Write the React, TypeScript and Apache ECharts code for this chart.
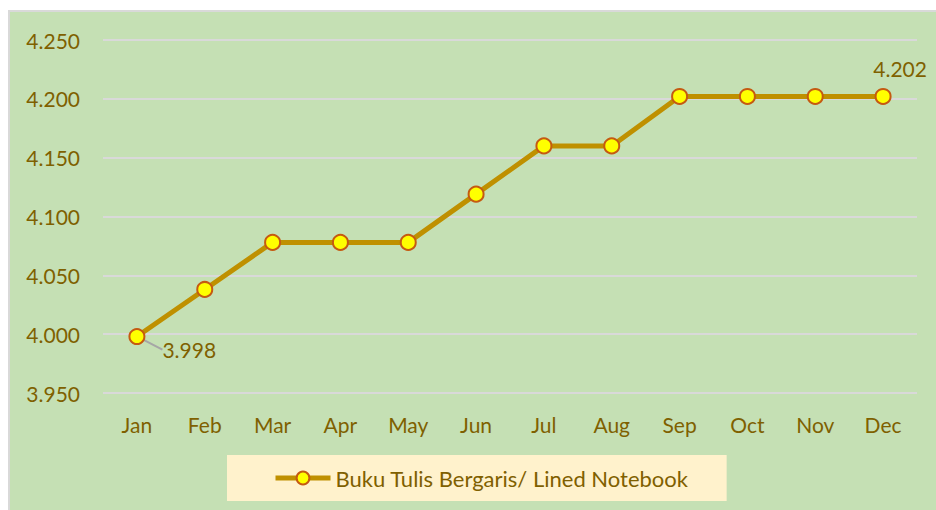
import React, { useEffect, useRef } from "react";
import * as echarts from "echarts";

const months = ["Jan", "Feb", "Mar", "Apr", "May", "Jun", "Jul", "Aug", "Sep", "Oct", "Nov", "Dec"];
const prices = [3.998, 4.038, 4.078, 4.078, 4.078, 4.119, 4.16, 4.16, 4.202, 4.202, 4.202, 4.202];
const seriesName = "Buku Tulis Bergaris/ Lined Notebook";
const labeledIndices = [0, 11];

const FONT = "Lato";
const TXT = "#7f6000";

export default function App() {
  const ref = useRef<HTMLDivElement>(null);
  useEffect(() => {
    if (!ref.current) return;
    const chart = echarts.init(ref.current, undefined, { renderer: "svg" });
    const data = prices.map((v, i) => {
      if (i === labeledIndices[0]) {
        return {
          value: v,
          label: { show: true, position: "right" },
          labelLine: { show: true },
        };
      }
      if (i === labeledIndices[1]) {
        return { value: v, label: { show: true, position: "top" } };
      }
      return v;
    });
    chart.setOption({
      animation: false,
      textStyle: { fontFamily: FONT },
      grid: { left: 103, right: 19, top: 40, bottom: 117, containLabel: false },
      legend: {
        left: 227,
        top: 455,
        padding: [12, 38, 12, 46],
        backgroundColor: "#fff2cc",
        itemWidth: 55,
        itemHeight: 16,
        itemGap: 5,
        lineStyle: { width: 5, color: "#bf9000" },
        textStyle: { color: TXT, fontSize: 22, fontFamily: FONT },
        data: [seriesName],
      },
      xAxis: {
        type: "category",
        data: months,
        boundaryGap: true,
        axisLine: { show: false },
        axisTick: { show: false },
        axisLabel: { color: TXT, fontSize: 21, margin: 21, fontFamily: FONT },
      },
      yAxis: {
        type: "value",
        min: 3.95,
        max: 4.25,
        interval: 0.05,
        axisLine: { show: false },
        axisTick: { show: false },
        splitLine: { lineStyle: { color: "#d9d9d9", width: 2 } },
        axisLabel: {
          color: TXT,
          fontSize: 21,
          margin: 23,
          fontFamily: FONT,
          formatter: (v: number) => v.toFixed(3),
        },
      },
      series: [
        {
          name: seriesName,
          type: "line",
          data,
          symbol: "circle",
          symbolSize: 15,
          lineStyle: { color: "#bf9000", width: 5 },
          itemStyle: { color: "#ffff00", borderColor: "#c55a11", borderWidth: 2 },
          label: {
            show: false,
            color: TXT,
            fontSize: 21,
            fontFamily: FONT,
            formatter: (p: any) => Number(p.value).toFixed(3),
          },
          labelLine: { show: false, lineStyle: { color: "#a6a6a6", width: 2 } },
          labelLayout: (params: any) => {
            if (params.dataIndex === labeledIndices[0]) {
              return { dx: 12, dy: 13 };
            }
            if (params.dataIndex === labeledIndices[1]) {
              return { dx: 17, dy: -4 };
            }
            return {};
          },
          z: 3,
        },
      ],
    });
    return () => chart.dispose();
  }, []);

  return (
    <div style={{ position: "fixed", left: 0, top: 0, width: 936, height: 510, overflow: "hidden", background: "#ffffff" }}>
      <div
        style={{
          position: "absolute",
          left: 8,
          top: 10,
          width: 940,
          height: 510,
          background: "#c5e0b4",
          border: "2px solid #d9d9d9",
          boxSizing: "border-box",
        }}
      />
      <div ref={ref} style={{ position: "absolute", left: 0, top: 0, width: 936, height: 510 }} />
    </div>
  );
}
